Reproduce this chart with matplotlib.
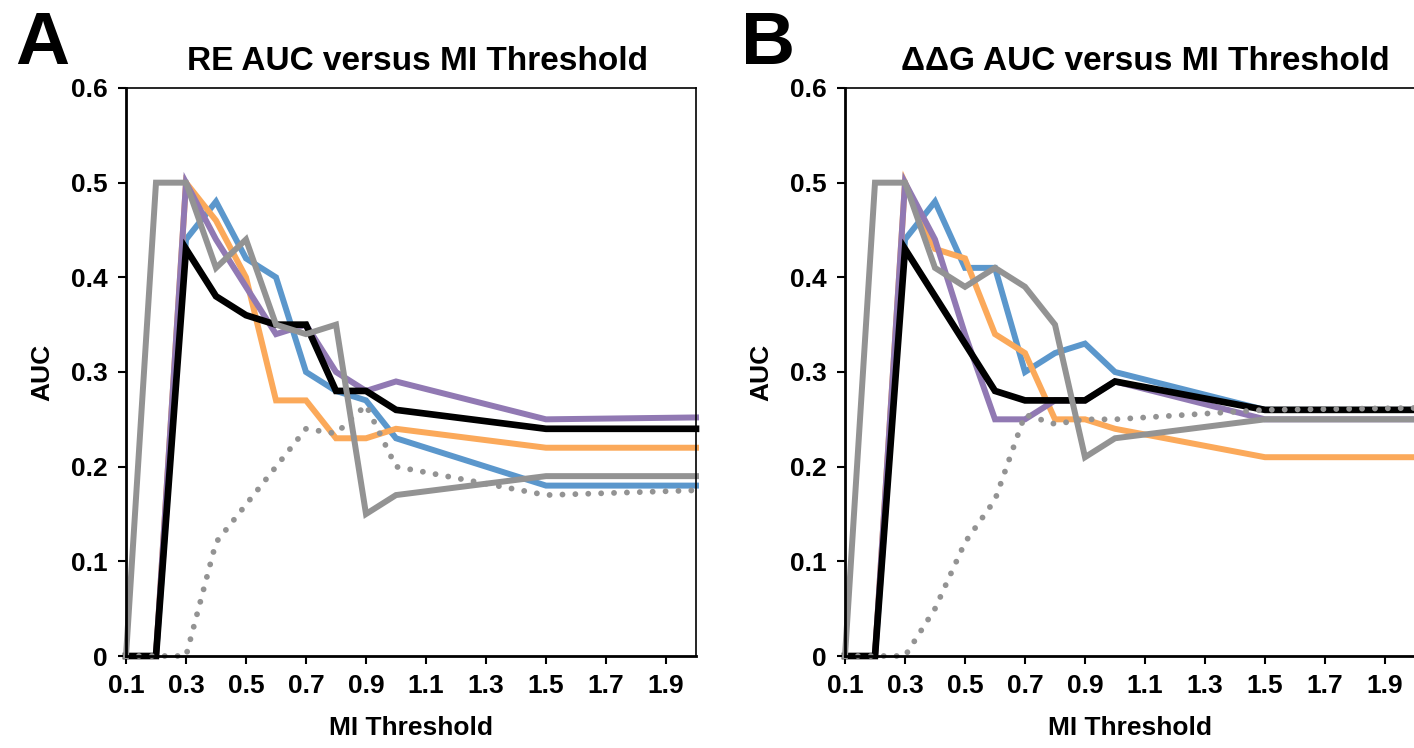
import numpy as np
from matplotlib import pyplot as plt

plt.rcParams['font.family'] = 'Liberation Sans'
plt.rcParams['font.weight'] = 'bold'

blue = "#5b97cc"
orange = "#fba95a"
purple = "#9179b3"
gray = "#939393"

mi = [0.1, 0.2, 0.3, 0.4, 0.5, 0.6, 0.7, 0.8, 0.9, 1.0, 1.5, 2.0]

# panel A: RE AUC
re_blue = [0, 0, 0.44, 0.48, 0.42, 0.40, 0.30, 0.28, 0.27, 0.23, 0.18, 0.18]
re_orange = [0, 0, 0.50, 0.46, 0.40, 0.27, 0.27, 0.23, 0.23, 0.24, 0.22, 0.22]
re_purple = [0, 0, 0.50, 0.44, 0.39, 0.34, 0.35, 0.30, 0.28, 0.29, 0.25, 0.252]
re_black = [0, 0, 0.43, 0.38, 0.36, 0.35, 0.35, 0.28, 0.28, 0.26, 0.24, 0.24]
re_gray = [0, 0.50, 0.50, 0.41, 0.44, 0.35, 0.34, 0.35, 0.15, 0.17, 0.19, 0.19]
re_dotted = [0, 0, 0, 0.12, 0.16, 0.20, 0.24, 0.235, 0.265, 0.20, 0.17, 0.175]

# panel B: ddG AUC
dg_blue = [0, 0, 0.44, 0.48, 0.41, 0.41, 0.30, 0.32, 0.33, 0.30, 0.26, 0.26]
dg_orange = [0, 0, 0.50, 0.43, 0.42, 0.34, 0.32, 0.25, 0.25, 0.24, 0.21, 0.21]
dg_purple = [0, 0, 0.50, 0.44, 0.34, 0.25, 0.25, 0.27, 0.27, 0.29, 0.25, 0.25]
dg_black = [0, 0, 0.43, 0.38, 0.33, 0.28, 0.27, 0.27, 0.27, 0.29, 0.26, 0.26]
dg_gray = [0, 0.50, 0.50, 0.41, 0.39, 0.41, 0.39, 0.35, 0.21, 0.23, 0.25, 0.25]
dg_dotted = [0, 0, 0, 0.05, 0.12, 0.165, 0.255, 0.245, 0.25, 0.25, 0.26, 0.262]

xticks = [0.1, 0.3, 0.5, 0.7, 0.9, 1.1, 1.3, 1.5, 1.7, 1.9]
yticks = [0, 0.1, 0.2, 0.3, 0.4, 0.5, 0.6]
ytick_labels = ["0", "0.1", "0.2", "0.3", "0.4", "0.5", "0.6"]

fig = plt.figure(figsize=(14.14, 7.48), dpi=100)
axA = fig.add_axes([126/1414, 92/748, 570/1414, 568/748])
axB = fig.add_axes([845/1414, 92/748, 570/1414, 568/748])


def draw(ax, series, dotted, title, title_x):
    for vals, col, lw in series:
        ax.plot(mi, vals, color=col, lw=lw, solid_joinstyle='miter', clip_on=False)
    ax.plot(mi, dotted, color=gray, lw=4.2, linestyle=(0, (0.01, 2.2)),
            dash_capstyle='round', clip_on=False)
    ax.set_xlim(0.1, 2.0)
    ax.set_ylim(0, 0.6)
    ax.set_xticks(xticks)
    ax.set_xticklabels([f"{t:.1f}" for t in xticks])
    ax.set_yticks(yticks)
    ax.set_yticklabels(ytick_labels)
    ax.tick_params(labelsize=19, length=6, width=1.5, direction='out', pad=7)
    for s in ['left', 'bottom']:
        ax.spines[s].set_linewidth(2)
    for s in ['top', 'right']:
        ax.spines[s].set_linewidth(1.2)
    ax.set_xlabel("MI Threshold", fontsize=19, fontweight='bold', labelpad=13)
    ax.set_ylabel("AUC", fontsize=19, fontweight='bold', labelpad=12)
    ax.text(title_x, 1.02, title, transform=ax.transAxes, ha='center',
            va='bottom', fontsize=24, fontweight='bold')


draw(axA, [(re_blue, blue, 4.3), (re_orange, orange, 4.3), (re_purple, purple, 4.3),
           (re_black, "black", 4.8), (re_gray, gray, 4.3)],
     re_dotted, "RE AUC versus MI Threshold", 0.512)
draw(axB, [(dg_blue, blue, 4.3), (dg_orange, orange, 4.3), (dg_purple, purple, 4.3),
           (dg_black, "black", 4.8), (dg_gray, gray, 4.3)],
     dg_dotted, "ΔΔG AUC versus MI Threshold", 0.526)

fig.text(42/1414, 1 - 44/748, "A", fontsize=54, fontweight='bold', ha='center', va='center')
fig.text(768/1414, 1 - 44/748, "B", fontsize=54, fontweight='bold', ha='center', va='center')

plt.savefig("out.png", dpi=100)
